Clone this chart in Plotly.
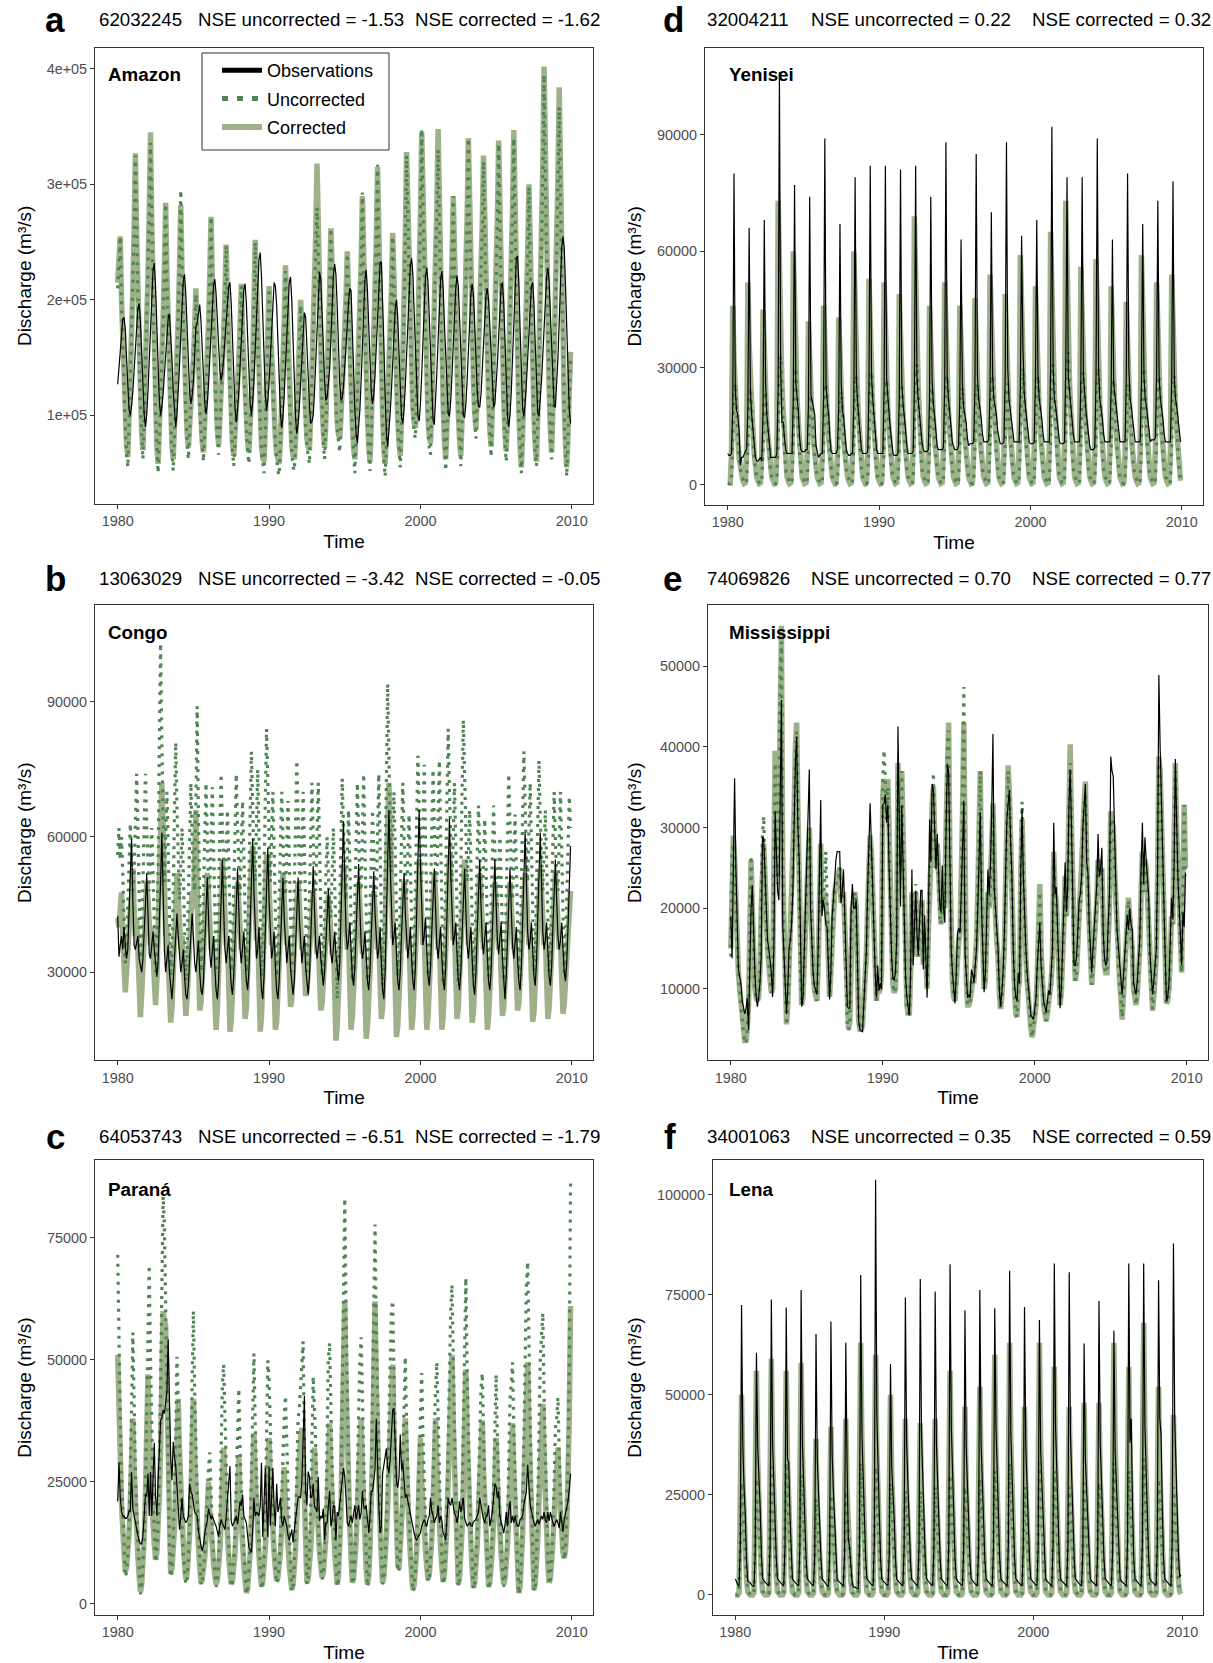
import plotly.graph_objects as go

# ---------------------------------------------------------------
# Monthly discharge 1980-2009, one row per year (Jan..Dec),
# values in thousand m3/s
# ---------------------------------------------------------------
years = list(range(1980, 2010))

amazon_obs = [
[127,140,155,172,183,185,175,150,123,105,100,108],
[121,139,158,178,193,197,181,154,124,101,90,101],
[121,147,175,204,226,232,212,179,142,113,100,107],
[119,135,153,170,184,188,173,149,121,100,90,101],
[119,143,169,196,217,222,205,177,146,121,110,117],
[129,150,176,180,190,196,182,158,131,111,101,110],
[127,148,171,195,213,218,205,183,158,139,130,137],
[149,164,181,198,212,215,197,167,133,106,94,104],
[120,142,166,190,209,214,197,168,136,111,100,111],
[131,156,185,213,235,241,220,186,148,118,104,113],
[128,148,171,193,215,212,196,165,129,102,89,99],
[118,141,168,194,215,220,200,166,128,98,84,92],
[107,126,147,170,189,185,165,135,108,93,95,100],
[120,150,180,210,224,218,195,160,130,113,115,125],
[140,165,195,222,231,222,195,160,128,113,115,125],
[140,158,178,198,210,208,180,140,105,84,76,88],
[105,130,160,192,218,226,208,178,145,120,110,118],
[135,158,185,212,232,233,205,162,118,85,73,85],
[102,122,145,170,192,200,185,155,122,98,93,105],
[125,150,180,208,230,236,222,190,155,122,100,95],
[110,135,165,195,220,228,215,185,150,118,96,92],
[110,137,165,195,218,225,210,180,148,118,102,99],
[112,135,160,188,210,221,212,185,150,118,100,98],
[110,130,155,182,205,214,205,180,150,122,108,107],
[118,138,160,185,204,210,200,178,150,122,107,110],
[125,145,168,192,212,215,198,165,128,100,90,100],
[120,148,180,212,236,238,215,175,135,106,99,110],
[128,148,170,194,212,215,196,162,125,102,99,112],
[130,152,175,200,220,228,216,188,155,125,108,107],
[125,150,180,215,245,255,245,212,170,132,105,93],
]
amazon_cor = [
[215,245,255,202,159,125,96,75,64,96,130,169],
[209,261,327,255,199,152,114,85,70,103,139,180],
[221,276,345,265,202,150,107,75,58,85,115,148],
[182,228,284,222,173,133,100,75,62,88,117,150],
[183,227,282,223,177,139,108,85,72,89,107,127],
[148,176,210,170,139,113,92,77,68,92,119,150],
[180,221,272,217,174,138,108,87,75,96,118,144],
[170,205,248,197,157,124,96,76,65,83,102,125],
[147,177,214,173,141,115,93,77,68,90,114,142],
[197,252,210,166,129,98,75,63,60,90,128,169],
[212,181,150,123,100,81,67,61,58,79,106,141],
[182,230,193,154,122,96,75,65,62,79,101,128],
[161,200,171,142,117,96,80,73,70,100,132,169],
[206,256,318,249,195,151,114,87,72,95,125,163],
[209,262,222,180,146,116,95,84,80,99,121,145],
[169,202,242,192,152,120,93,73,62,89,119,153],
[187,233,290,226,175,134,99,74,60,91,124,162],
[200,251,315,243,187,140,102,73,58,82,108,138],
[168,208,258,204,162,127,98,77,65,97,139,191],
[254,328,275,220,175,137,108,94,89,120,161,212],
[273,345,286,224,173,130,98,81,76,109,144,185],
[226,280,348,268,205,154,111,79,62,89,119,153],
[187,233,290,227,178,137,103,79,65,98,134,175],
[216,271,340,269,214,169,131,103,88,116,147,183],
[218,266,325,254,199,154,116,88,73,105,139,179],
[219,272,338,263,204,155,115,85,69,102,139,180],
[222,278,347,265,201,148,105,73,55,84,116,153],
[190,239,300,233,180,137,101,74,60,101,146,197],
[248,317,402,308,235,175,125,88,68,106,147,194],
[242,305,384,292,220,160,111,75,55,85,120,155],
]
amazon_unc = [
[210,240,255,198,155,120,90,68,55,90,127,165],
[205,258,325,250,195,148,110,80,62,98,136,176],
[215,270,336,258,196,145,102,68,50,80,110,143],
[178,225,283,218,168,128,95,68,52,82,112,146],
[185,232,295,228,178,136,102,78,62,84,104,124],
[145,172,205,166,134,108,86,70,60,88,116,148],
[178,220,272,214,170,133,102,80,66,90,114,140],
[168,203,247,195,153,119,90,70,56,78,98,122],
[145,175,212,170,137,110,87,70,58,86,111,140],
[195,250,206,162,124,92,68,55,50,85,125,167],
[210,178,146,118,95,75,60,52,48,74,103,138],
[180,225,188,149,117,90,68,56,52,74,98,125],
[158,195,166,137,111,90,73,64,58,95,128,165],
[200,245,280,240,190,145,108,78,62,90,122,160],
[207,262,218,176,140,110,88,75,68,95,118,143],
[166,200,240,188,148,115,87,64,50,84,116,150],
[186,235,293,224,170,128,92,65,52,86,121,160],
[200,252,317,240,182,134,95,64,47,76,104,135],
[165,205,255,200,157,121,90,68,55,92,136,189],
[252,325,272,216,170,131,100,85,80,116,158,210],
[272,348,283,220,168,124,90,72,66,104,141,183],
[222,275,330,262,200,148,104,70,52,84,116,150],
[185,230,290,224,173,131,96,70,56,93,131,172],
[214,270,340,266,210,164,124,94,80,111,144,180],
[215,262,320,250,194,148,109,79,64,100,136,176],
[216,269,335,260,199,149,108,76,60,97,136,177],
[220,275,340,261,196,142,98,64,50,80,113,150],
[188,236,298,230,175,131,94,66,56,97,143,195],
[245,312,395,303,229,168,117,80,62,102,144,190],
[240,300,367,288,215,154,104,66,47,80,116,150],
]

yenisei_obs = [
[8,7.5,7.5,8,20,80,25,19,18,14,5,7],
[7,8,8.5,9,20,66,24,18,14,10,7,6],
[6,6.5,7,6,18,68,26,18,14,10,7,7],
[7,7,7,8,25,106,30,16,16,12,9,8],
[8,8,8,8,22,77,26,22,19,12,9,8.5],
[8.5,8.5,9,9,20,74,23,21,20,18,10,8],
[7,7.5,8,8,22,89,25,21,18,12,8.5,8],
[8,8,8,9,20,67,26,19,17,13,9,8],
[7.5,7.5,8,8,22,79,27,21,17,13,9,8],
[8,8,8,8.5,25,82,28,22,18,14,9,8],
[8,8,8,8,25,82,27,21,18,14,10,8],
[7.5,7.5,7.5,8,22,81,26,21,18,14,10,8],
[8,8,8,8.5,25,82,28,22,18,15,11,9],
[8.5,8.5,8.5,9,22,74,27,21,18,14,10,9],
[9,9,9,9.5,25,88,28,22,19,15,11,10],
[9,9,9,10,22,63,26,20,18,16,12,10],
[10.5,10.5,10.5,11,25,85,28,22,20,17,13,11],
[11,11,11,11.5,25,70,28,22,20,18,14,12],
[10.5,10.5,10.5,11,28,88,30,22,19,17,14,11],
[11,11,11,11,25,64,36,24,20,17,13,11],
[10.5,10.5,10.5,11,28,68,28,22,20,17,13,11],
[11,11,11,11,30,92,30,22,20,17,14,11],
[10.5,10.5,10.5,11,30,79,28,24,20,17,13,11],
[11,11,11,11,28,79,28,22,19,16,12,10],
[9,9,9,9.5,28,89,30,22,20,17,13,11],
[11,11,11,11,25,63,26,22,20,17,13,11],
[11,11,11,11,28,80,30,22,20,17,13,11],
[11,11,11,11,26,67,28,22,20,17,13,11],
[11.5,11.5,11.5,12,28,73,28,22,20,17,13,11],
[11,11,11,11,28,78,28,22,20,17,13,11],
]
yenisei_cor = [
[0.5,0.3,0.5,8,46,32,23,17,12,7,4,2],
[1,0.3,0.5,9,52,36,26,19,14,8,4,2],
[1,0.3,0.5,8,45,32,23,16,12,7,4,2],
[1,0.3,0.5,10,73,51,36,26,19,12,5,2],
[1,0.3,0.5,9,60,42,30,22,16,10,4,2],
[1,0.3,0.5,8,42,29,21,15,11,7,4,2],
[1,0.3,0.5,8,46,32,23,17,12,7,4,2],
[1,0.3,0.5,8,43,30,22,15,11,7,4,2],
[1,0.3,0.5,9,60,42,30,22,16,10,4,2],
[1,0.3,0.5,9,53,37,27,19,14,8,4,2],
[1,0.3,0.5,9,52,36,26,19,14,8,4,2],
[1,0.3,0.5,8,49,34,25,18,13,8,4,2],
[1,0.3,0.5,10,69,48,35,25,18,11,5,2],
[1,0.3,0.5,8,46,32,23,17,12,7,4,2],
[1,0.3,0.5,9,52,36,26,19,14,8,4,2],
[1,0.3,0.5,8,46,32,23,17,12,7,4,2],
[1,0.3,0.5,8,48,34,24,17,12,8,4,2],
[1,0.3,0.5,9,54,40,30,22,15,9,4,2],
[1,0.3,0.5,8,49,34,25,18,13,8,4,2],
[1,0.3,0.5,9,59,41,30,21,15,9,4,2],
[1,0.3,0.5,9,51,36,26,18,13,8,4,2],
[1,0.3,0.5,10,65,46,33,23,17,10,5,2],
[1,0.3,0.5,10,73,51,36,26,19,12,5,2],
[1,0.3,0.5,9,56,39,28,20,15,9,4,2],
[1,0.3,0.5,9,58,41,29,21,15,9,4,2],
[1,0.3,0.5,9,51,36,26,18,13,8,4,2],
[1,0.3,0.5,8,47,33,24,17,12,8,4,2],
[1,0.3,0.5,9,59,41,30,21,15,9,4,2],
[1,0.3,0.5,9,52,36,26,19,14,8,4,2],
[1,0.3,0.5,9,54,38,27,19,14,9,4,1],
]
yenisei_unc = [
[0.3,0.2,0.2,1,10,23,26,20,12,7,4,2],
[1.5,0.5,0.2,1,10,22,25,19,12,7,4,2],
[1.5,0.5,0.2,1,9,22,24,18,11,7,4,2],
[1.5,0.5,0.2,1,12,30,33,25,14,8,4,2],
[1.5,0.5,0.2,1,11,27,30,22,13,8,4,2],
[1.5,0.5,0.2,1,9,21,23,17,11,7,4,2],
[1.5,0.5,0.2,1,10,23,26,20,12,7,4,2],
[1.5,0.5,0.2,1,9,22,24,18,11,7,4,2],
[1.5,0.5,0.2,1,11,25,28,21,13,8,4,2],
[1.5,0.5,0.2,1,11,26,29,22,13,8,4,2],
[1.5,0.5,0.2,1,10,24,27,20,12,7,4,2],
[1.5,0.5,0.2,1,10,23,26,20,12,7,4,2],
[1.5,0.5,0.2,1,12,28,31,23,13,8,4,2],
[1.5,0.5,0.2,1,10,22,25,19,12,7,4,2],
[1.5,0.5,0.2,1,11,25,28,21,13,8,4,2],
[1.5,0.5,0.2,1,10,22,25,19,12,7,4,2],
[1.5,0.5,0.2,1,10,23,26,20,12,7,4,2],
[1.5,0.5,0.2,1,11,25,28,21,13,8,4,2],
[1.5,0.5,0.2,1,10,23,26,20,12,7,4,2],
[1.5,0.5,0.2,1,11,27,30,22,13,8,4,2],
[1.5,0.5,0.2,1,11,25,28,21,13,8,4,2],
[1.5,0.5,0.2,1,12,28,31,23,13,8,4,2],
[1.5,0.5,0.2,1,13,31,34,26,14,8,4,2],
[1.5,0.5,0.2,1,11,26,29,22,13,8,4,2],
[1.5,0.5,0.2,1,11,27,30,22,13,8,4,2],
[1.5,0.5,0.2,1,10,24,27,20,12,7,4,2],
[1.5,0.5,0.2,1,10,23,26,20,12,7,4,2],
[1.5,0.5,0.2,1,11,27,30,22,13,8,4,2],
[1.5,0.5,0.2,1,11,25,28,21,13,8,4,2],
[1.5,0.5,0.2,1,11,25,28,21,13,8,4,1],
]

congo_obs = [
[42.4,33.4,36,38,35,40,36,33,35,42,50,59.6],
[46,36,35,37,38,33,31,30,33,38,45,52],
[42,34,33,36,39,35,31,29,32,40,50,61],
[48,35,30,33,36,30,26,24,28,34,38,43],
[38,33,30,32,35,29,25,24,27,33,38,43],
[38,32,30,33,37,30,26,25,28,36,44,51],
[42,34,31,34,38,31,26,24,28,37,46,55],
[44,35,32,35,38,32,27,25,29,37,45,53],
[44,35,32,35,39,33,28,26,30,40,50,59.6],
[48,38,33,35,40,32,26,24,29,39,48,57.6],
[46,37,33,35,39,31,26,24,28,36,44,51],
[42,35,32,35,38,31,27,25,28,36,44,51],
[42,35,32,35,38,31,27,25,29,37,45,53.5],
[44,36,33,35,38,33,29,27,30,36,42,48.5],
[40,34,32,35,39,34,30,28,32,42,53,63.5],
[50,39,35,37,41,35,29,27,31,39,47,54],
[44,36,33,35,39,33,28,26,30,38,45,52.4],
[43,36,33,35,40,32,26,24,30,42,54,66],
[54,42,36,38,41,34,28,26,30,38,45,52],
[43,36,33,36,40,33,28,26,31,43,55,66],
[54,42,36,38,42,35,29,27,31,39,46,53],
[44,36,33,36,40,33,28,26,31,42,53,64],
[52,41,36,38,41,34,28,26,30,38,46,53],
[44,36,33,36,40,33,27,25,30,39,47,55],
[45,37,34,37,41,34,28,26,30,39,47,55],
[45,37,34,37,41,33,27,24,29,38,46,53],
[44,36,33,36,40,33,28,26,31,41,51,61],
[50,39,35,37,41,34,29,27,32,42,52,61],
[50,39,35,37,41,34,29,27,31,40,48,55],
[46,38,35,37,41,35,30,28,32,40,49,58],
]
congo_cor = [
[42,40,44,47.7,38,28,25.5,30,36,40,44,47],
[53,44,38,42,32,22,20,25,33,40,46,50],
[46,38,36,40,32,24,22.7,28,38,52,64,72],
[62,46,38,40,34,24,18.8,22,30,40,47,52],
[47,38,35,38,30,22,20.3,24,31,38,44,48],
[44,52,66,48,32,21.5,23,27,34,42,48,52],
[47,38,35,38,29,20,17.2,22,31,42,50,55],
[50,40,36,38,28,16.8,19,24,32,40,46,50],
[45,37,35,37,28,19.6,22,28,38,48,56,58],
[52,42,37,39,30,16.8,20,28,38,48,56,55],
[48,40,36,38,28,17.2,19,25,34,42,48,52],
[46,38,36,38,30,22.3,24,28,35,42,47,50],
[45,38,35,37,30,24.7,26,30,35,41,45,48],
[44,37,34,37,30,21.5,23,28,34,40,44,47],
[43,36,34,37,26,14.8,18,25,34,44,51,54],
[48,39,35,37,27,17.2,20,26,34,42,47,50],
[45,37,34,36,26,15.2,18,24,32,40,45,48],
[44,37,35,37,28,19.6,22,28,38,52,64,72],
[62,46,38,38,27,15.6,18,25,33,42,47,50],
[45,37,35,37,27,17.2,20,27,36,45,51,55],
[49,40,36,38,28,17.2,20,27,35,44,49,52],
[47,38,35,37,28,17.2,20,27,36,46,52,56],
[50,41,37,39,29,19.6,22,28,37,46,52,55],
[49,40,36,38,29,18.8,21,27,35,44,49,52],
[47,38,35,37,28,17.2,20,26,34,42,47,50],
[45,37,35,37,29,20.3,22,28,35,42,47,50],
[45,37,35,37,29,21.5,23,29,36,44,49,52],
[47,38,36,38,29,19,21,28,36,45,50,53],
[48,39,36,38,29,19.6,22,28,36,44,49,52],
[47,38,35,37,29,20.8,23,29,36,42,46,48],
]
congo_unc = [
[56,62,55,60,52,40,32,36,44,54,63,55],
[48,52,64,74,62,45,33,38,48,62,74,62],
[52,48,56,62,52,38,30,36,52,80,103,80],
[62,50,60,70,58,40,29,34,46,66,81,66],
[52,46,54,62,52,38,28,33,44,60,72,60],
[50,48,72,89,64,42,30,35,46,60,72,60],
[50,48,60,71,58,41,30,35,47,62,74,62],
[52,47,56,66,55,40,30,35,46,62,74,62],
[52,47,58,68,56,41,30,35,47,65,79,65],
[55,50,63,75,60,42,29,34,47,68,84,70],
[58,50,60,70,57,41,29,34,45,59,70,59],
[50,47,58,68,56,41,30,35,46,63,77,64],
[53,48,60,70,57,41,30,35,46,60,72,60],
[50,48,61,72,58,41,29,33,42,52,60,52],
[44,42,52,62,50,36,24,30,42,60,73,62],
[52,46,56,66,54,39,28,33,45,60,72,60],
[50,48,62,74,58,40,28,33,43,56,66,56],
[47,47,62,74,58,40,27,33,48,72,94,76],
[62,52,60,70,57,41,29,34,46,60,72,60],
[50,46,56,65,54,40,29,34,46,64,78,65],
[54,50,64,76,60,42,29,34,46,62,75,62],
[52,50,64,77,61,42,28,34,48,68,84,70],
[58,50,60,72,58,41,28,34,48,70,86,71],
[60,50,56,66,54,40,29,33,44,56,67,57],
[48,46,55,64,53,39,29,33,44,56,67,57],
[48,44,52,60,50,37,28,33,44,60,74,62],
[52,46,56,65,54,40,29,34,46,64,79,66],
[55,50,60,72,58,42,30,35,47,63,77,64],
[54,48,56,66,55,40,30,35,45,58,70,59],
[50,48,58,70,57,41,30,35,45,57,69,62],
]

mississippi_obs = [
[19,13.8,25,36.1,25,18,12.5,11.5,10.7,8.5,7.6,6.9],
[7.5,8.9,4.9,13,20,22.8,17,12,9,7.8,9,10.7],
[14,28.8,28.6,24,18,16,15,13.5,12,9,15,32],
[26,22,21,35,45.8,18,14,10.7,6.9,10,15,16],
[18,22,30,38,41.2,30,26,15,7.8,8.9,15,19.5],
[25.7,30,37.2,20,15,12,10.4,9.8,9.3,15,25,33.4],
[19,21,20,18,17.7,13,8.7,12,19,21,24.4,26],
[27,27,27,20.6,22,24.8,19,12,7.8,7.6,7.6,20],
[23,20,20,21,12,6,4.9,4.8,4.7,8,12,14.6],
[22,28,33,28,22,19.5,12,8.9,12.9,9.8,10.7,10],
[32.8,33,34.1,30.6,32.8,25,17.7,14,11.3,11.1,12,16.2],
[42.5,30,20.2,32.8,24.8,18,11.5,9,7.5,6.7,12,24.8],
[12.9,18,22.2,16.9,14.2,18,22.2,22.2,12.4,19.1,15,8.9],
[17.7,31,25.7,35.4,34.6,28,24.8,29.2,25,20.4,19.5,25.3],
[20,18.2,30,37.9,36.8,24,15,12,9.8,8.2,12,16.9],
[17.5,16.9,22,28.8,33.3,14.4,11,8.9,9.3,8.9,12.4,11.8],
[10.7,13,15,20,24.8,31.9,20,15,9.6,12,17.3,24.8],
[21.7,25,32,41.6,22.6,19.5,17,15,10,7.8,9.5,12],
[16.9,25.7,31,33,34.6,28,23.9,15,10.7,9,8.5,12],
[10.7,25,32.3,23.9,17.7,15,12,10,8.5,6.7,6.5,6.2],
[7.5,8.9,13,16,18.2,12.9,10,8.5,7.8,7.1,8.5,9.8],
[9.3,12,15,30.6,21.7,22.6,18,14.6,7.6,10,15,20],
[25.7,19.5,22.4,32.8,37.2,30,22.6,12.9,12.9,14,17,21],
[21.7,24,30.1,33,35.4,25.7,24.4,18,15.5,12,15,17.7],
[20,23,29.2,23.9,25,27.5,17.3,14,12.9,13.3,18,21.7],
[38.8,37,36.3,28,23,17.3,15,12.9,11,9.3,11.5,13.8],
[16,19.1,17.3,20,18,17.3,10.7,10,9.3,11,13.3,16.4],
[25,30.6,23,28.8,26,23.9,21.3,14.2,12,9.3,11,13.3],
[15,25,48.9,40,32.8,25,19.5,14,8.5,9,10.7,15],
[21.3,18.6,25,38.5,28.4,24,20.4,16,12.9,19.5,17.7,24.4],
]
mississippi_cor = [
[15,28,29,26,20,15,12,10,8,6,4.5,3.6],
[3.6,5,8,16,26,20,14,10,9,8.5,9,12],
[20,27,28,24,17,15,13,11,9.5,10,20,39.5],
[30,24,32,50,55,25,15,9,5.6,8,13,16],
[19,24,32,40,43,32,20,12,8,9,14,19],
[24,28,30,22,15,12,10,9,8.5,13,22,28],
[20,20,22,21,19,14,9,12,17,20,22,23],
[24,24,25,21,21,22,17,11,6,5,6,17],
[20,21,22,20,12,6,5,5,5.5,8,11,14],
[20,26,29,27,22,17,11,8.5,11,9.5,10,12],
[34,36,35,32,36,28,18,13,10.5,9.5,10,15],
[38,32,25,37,28,19,11,8,7,7,12,22],
[14,18,22,18,14,17,20,21,13,17,14,10],
[17,26,26,33,35,29,25,28,24,19,18,22],
[20,20,30,40,43,26,15,11,9,8.5,11,15],
[16,17,22,32,43,20,11,8,8,8.5,11,11],
[11,13,16,22,30,37,22,15,10,11,15,22],
[20,23,28,33,23,19,16,14,9.5,7.5,9,11],
[15,23,35,37.7,34,27,22,15,10,7,6.5,10],
[11,24,31,24,17,14,11,8.5,6.5,5,4,5],
[6.5,8,12,16,23,15,10,8,7,6,7,8.5],
[9,11,14,27,22,21,17,13,8,9.5,13,18],
[24,19,24,33,40.3,30,22,13,11,12,15,19],
[20,23,29,33,35.7,26,23,17,14,10.5,13,16],
[18,21,26,24,24,25,17,13,12,12,16,20],
[32,31,30,25,21,16,13,11,9,6.2,9,12],
[15,18,21.3,19,17,15,10,9,8,9.5,12,15],
[22,27,22,26,25,22,19,13,10,7.3,9,12],
[14,24,38.8,37,31,24,18,13,8.2,8.5,10,14],
[19,18,26,38,30,24,19,15,12,24,32.8,25],
]
mississippi_unc = [
[14,27,28,26,20,15,12,10,8,6,4.5,3.3],
[3.3,5,8,17,26.5,20,14,10,9,8.5,9,12],
[21,29,31.4,24,17,15,13,11,9.5,10,21,38],
[30,23,31,49,53,25,15,9,5.5,8,13,16],
[19,24,31,39,42,32,20,12,8,9,14,19],
[23,27,29,22,15,12,10,9,8.5,13,22,27],
[20,21,23,27,21,14,9,12,17,20,22,23],
[24,24,25,21,21,22,17,11,5.5,4.9,6,17],
[20,21,22,20,12,6,5,5,5.5,8,11,14],
[20,26,28,27,22,17,11,8.5,11,9.5,10,13],
[36,39.6,36,31,35,28,18,13,10.5,9.5,10,15],
[36,32,25,37,28,19,11,8,7,7,12,22],
[15,19,23,18,14,17,20,21,13,17,14,10],
[17,25,26,33,36.8,29,25,28,24,19,18,22],
[20,20,30,40,42,26,15,11,9,8.5,11,15],
[16,17,22,35,47.4,22,11,8,8,8.5,11,11],
[11,13,16,22,30,37,22,15,10,11,15,22],
[20,23,28,32,23,19,16,14,9.5,7.5,9,11],
[15,23,34,37,34,27,22,15,10,7,6.5,10],
[11,26,33.2,24,17,14,11,8.5,6.5,5,4,5],
[6.5,8,12,16,22,15,10,8,7,6,7,8.5],
[9,11,14,26,22,21,17,13,8,9.5,13,18],
[24,19,24,33,38,30,22,13,11,12,15,19],
[20,23,29,33,34,26,23,17,14,10.5,13,16],
[18,21,26,24,24,25,17,13,12,12,16,20],
[31,31,30,25,21,16,13,11,9,6.5,9,12],
[15,18,21,19,17,15,10,9,8,9.5,12,15],
[22,27,22,26,25,22,19,13,10,7.5,9,12],
[14,24,38,37,31,24,18,13,8.2,8.5,10,14],
[19,18,26,37,30,24,19,15,12,26,32.8,24],
]

parana_obs = [
[21,29,22,19,18,18,17.5,17.5,18,19,19,27],
[19.5,18,17,15.2,14,13,12.3,12.3,14,18,22.4,22],
[26.7,18,27,18,25,33,22,18,25,32.5,37.6,38],
[39.7,39,42,43.4,54.2,38.3,30,25.3,33.2,30,28.2,24],
[19.5,15.2,18,21.7,18,17,16.6,17,18,24.6,23,22.4],
[20,18.8,18.5,18,15,13,12,10.8,12,14.5,16,17],
[19.5,18.5,17.3,18,17,16.5,15.9,15,13.7,16,17.3,16.5],
[16,15.2,18,21,23.8,28.2,17,15.9,16.5,17.5,18,16.3],
[19,21,20,22.4,18,17,16.6,14,11.6,11,10.5,15],
[21.7,18,18.8,18.5,18,20,28.9,13.7,20,27.8,20,13.7],
[28.2,16,22,27.8,20,15.9,24.6,18.8,20,21.7,17,15.9],
[18,17,15.9,14,13,14,15.2,12.6,15.9,17.3,19.5,21.7],
[22,21.7,25,36.1,42.6,23.1,20.2,27.1,26,21.7,22,24.6],
[20,19.5,18.8,26,17,18,17.5,19.5,13,16.6,16.6,20],
[23.1,15.9,17.3,20.2,20,13,18.8,18,20.2,22,25.3,27.8],
[26,21.7,16.6,15.9,17,18,16.6,19,20.2,17.3,19,20.2],
[17.3,18.8,23.1,20,19.5,20.2,17.3,14.5,18,23.1,23.1,25],
[27.5,37.9,27.5,20,14.5,15.9,26.7,28.2,30,31.8,28,26.7],
[29.6,35,39.7,40.1,31.8,25,23.8,26,34.7,27.5,28.9,25],
[21.7,22.4,21,19.5,18,17.3,16,14.5,13.5,13,13.7,14],
[14.5,15.9,16.5,17.3,16.5,15.9,17.3,18,21.7,19,18,16.6],
[17.5,18,20.2,16.6,18,17,14.5,14,13,18.8,21.7,20.5],
[20.2,21.7,19.5,18.5,18,16.6,18,21,18.8,20,21.7,17.5],
[16.6,15.9,16.3,16.6,16,15.9,16.8,17,17.3,18,18.8,21.7],
[20,18,17.3,16.6,18,18,20.2,15.9,17.5,18.8,21.7,24.6],
[24,21.7,23.1,18,16.5,15.9,14.5,16,18.8,15.9,19,21],
[16.6,18,16.6,18,16.6,16,15.9,17.3,17.5,18,20.2,21.5],
[23.1,28.5,23.1,20.2,19,17.3,16.6,15.9,16.5,17.3,16.3,17.5],
[18,17.3,18.8,17,16.6,18.8,17,18.8,17.5,16.6,15.9,16.5],
[17.3,16.6,15.5,18.8,16,14.8,17.3,18.8,19.5,21,23.5,26.7],
]
parana_cor = [
[51,37.7,27.9,20.7,15.4,10.5,6.5,7.4,10.3,14.4,20.7,29.2],
[38,27.4,19.5,13.9,9.6,5.7,2.5,3.8,7.8,13.6,22.5,34.5],
[47,35.6,27.2,21.2,16.6,12.4,9,10.5,15.1,21.8,32,45.7],
[60,58,57,45,30,15,6.1,7.2,10.4,15.1,22.3,32],
[42,30.9,22.8,16.8,12.4,8.3,5,6.1,9.4,14.3,21.7,31.6],
[42,30.7,22.4,16.4,11.8,7.7,4.3,4.9,6.8,9.5,13.6,19.2],
[25,18.7,14.1,10.7,8.2,5.9,4,4.8,7.4,11,16.6,24.2],
[32,23.6,17.4,13,9.6,6.5,4,4.8,7.1,10.5,15.7,22.7],
[30,21.7,15.5,11.1,7.8,4.7,2.2,3.2,6.1,10.4,17,25.8],
[35,25.6,18.7,13.6,9.9,6.4,3.6,4.5,7.2,11.2,17.3,25.5],
[34,25.2,18.8,14.1,10.6,7.3,4.7,5.4,7.5,10.5,15.2,21.5],
[28,20.5,15,10.9,7.9,5.2,2.9,3.9,6.9,11.2,17.8,26.7],
[30,34,36,31,22,11,4.3,5.1,7.6,11.2,16.8,24.2],
[32,24,18.2,13.9,10.7,7.8,5.4,6.3,9.2,13.3,19.6,28.2],
[37,27.1,19.8,14.6,10.6,7,4,5.7,11,18.5,35,58],
[62,44.7,32,22.8,15.8,9.5,4.3,5.3,8.3,12.7,19.5,28.6],
[34,38,27,18,12,7,4,5.7,11,18.5,30.1,45.8],
[62,44.7,32,22.8,15.8,9.5,4.3,5.5,9,14,20,28],
[36,44,49,36,24,14,8,7.2,10.9,14.9,21.1,29.4],
[38,27.5,19.7,14.1,9.9,6.1,2.9,3.8,6.6,10.7,16.9,25.3],
[34,25.3,18.9,14.3,10.8,7.6,5,6,9,13.3,19.9,28.8],
[38,28,20.6,15.2,11.2,7.5,4.5,5.9,10.1,16.1,25.4,36],
[44,51,37,26,17,9,4,5.3,9.3,15,23.8,35.7],
[48,34.6,24.8,17.6,12.2,7.3,3.3,4.3,7.5,12,19,27],
[33,37.6,27,19,12,7,3.5,4.5,7.3,11,17,25],
[34,25,18.4,13.6,10,6.7,4,5,8,12,18,26],
[32,37,27,19,12,6,2.2,3.5,8,14,24,37],
[45,49.5,36,25,16,8,2.9,4,8,13,21,31],
[38,41,30,21,14,8,4.3,5.2,8.5,13,19,26],
[29,32,24,18,13,10.5,9.4,11,16,24,38,61],
]
parana_unc = [
[71.5,52,38,27,18,11,5.5,6.5,10,16,26,40],
[55.6,40,28,19,12,6,2,3,7,13,24,42],
[58,69.4,50,35,24,15,8.5,10,16,26,42,62],
[83.5,77.7,62,40,24,12,5.5,7,12,22,35,50.6],
[42,30,21,15,10,6,4,5,9,16,30,52],
[60,44,31,22,15,9,3.8,4.5,7,10,16,24],
[28,31,22,15,10,6,3.5,4.5,9,17,30,45],
[49.1,36,26,18,12,7,3.5,4.5,8,15,26,40],
[44.1,32,23,16,11,6,2,3,7,14,28,45],
[51.3,37,26,18,12,6,3,4,9,18,32,49.9],
[46,34,24,17,11,7,4.2,5,8,13,22,34],
[38,42.6,31,22,15,8,2.5,3.5,8,16,26,38],
[40,45,50,53.8,32,14,4,5,10,20,33,46.6],
[40,30,22,16,11,7,5,6,10,18,32,50],
[53.5,39,28,20,14,8,3.5,5,11,22,42,70],
[83.1,60,42,29,19,10,4,5,9,16,28,44],
[50,54.6,40,28,19,10,3.5,5,12,24,44,70],
[77.7,56,40,27,18,10,4,5,9,16,28,42],
[52,60,62.1,45,30,16,7,6.5,11,18,30,44],
[50.6,37,26,18,12,6,2.5,3.5,7,13,22,34],
[42,47.3,34,24,16,9,4.5,5.5,9,15,25,38],
[44,49.5,36,25,17,9,4,5.5,11,20,34,52],
[60,65.4,48,33,22,11,3.5,5,11,21,38,58],
[66.8,48,34,23,15,8,3,4,8,14,24,38],
[44,47.3,34,24,16,8,3,4,8,14,24,38],
[47,34,24,17,11,6,3.5,5,9,16,28,42],
[45,49.5,36,25,16,8,2,3.5,9,18,34,55],
[65,70.1,51,35,23,12,2.5,4,10,20,34,50],
[55,59.6,43,30,20,10,4,5,9,15,25,36],
[38,42.3,31,22,16,11,9,11,18,30,50,86.3],
]

lena_obs = [
[4,3,2.5,2.2,12,72.4,38,27,20,8.4,3.5,3.2],
[3,2.5,2.2,2,10,60.5,37,30,22,10,4,3.5],
[3.2,2.8,2.5,2.2,12,73.8,38,26,20,9,4,3.5],
[3.2,2.8,2.5,2.2,12,71.8,34,33,20,9,4,3.5],
[3.2,2.8,2.5,2.2,12,76.2,38,27,20,9,4,3.5],
[3.2,2.8,2.5,2.2,10,65.2,34,25,19,9,4,3.5],
[3,2.6,2.3,2,10,68.3,35,26,19,9,4,3.5],
[3.2,2.8,2.5,2.2,10,63,33,14,12,8,3.5,2],
[2,1.8,1.6,1.5,12,79.9,40,28,20,9,4,3.5],
[3.2,2.8,2.5,2.2,14,103.7,45,28,20,9,4,3.5],
[3.2,2.8,2.5,2.2,10,57.7,32,26,19,9,4,3.5],
[3.2,2.8,2.5,2.2,12,74.3,38,27,20,9,4,3.5],
[3.2,2.8,2.5,2.2,12,78.9,40,28,20,9,4,3.5],
[3.2,2.8,2.5,2.2,12,75.8,38,27,20,9,4,3.5],
[3.2,2.8,2.5,2.2,13,82.6,42,28,20,9,4,3.5],
[3.2,2.8,2.5,2.2,12,71.1,37,27,20,9,4,3.5],
[3.2,2.8,2.5,2.2,12,76.2,38,27,20,9,4,3.5],
[3.2,2.8,2.5,2.2,12,71.6,42,28,20,9,4,3.5],
[3.2,2.8,2.5,2.2,13,81,40,28,20,9,4,3.5],
[3.2,2.8,2.5,2.2,12,71.9,37,27,20,9,4,3.5],
[3.2,2.8,2.5,2.2,12,68.7,36,27,20,9,4,3.5],
[3.2,2.8,2.5,2.2,13,82.8,42,28,20,9,4,3.5],
[3.2,2.8,2.5,2.2,13,80.6,40,28,20,9,4,3.5],
[3.2,2.8,2.5,2.2,11,62.8,34,26,19,9,4,3.5],
[3.2,2.8,2.5,2.2,12,73.4,38,27,20,9,4,3.5],
[3.2,2.8,2.5,2.2,11,66,36,27,20,9,4,3.5],
[3.2,2.8,2.5,2.2,13,82.8,38,44,22,9,4,3.5],
[3.2,2.8,2.5,2.2,13,82.8,42,28,20,9,4,3.5],
[3.2,2.8,2.5,2.2,13,78.6,44,40,22,9,4,3.5],
[3.2,2.8,2.5,2.2,14,87.8,44,30,21,10,4.5,5],
]
lena_cor = [
[0,0,0,0.5,27,50,30,19,11,4,0.8,0.2],
[0,0,0,0.5,31,56,34,21,12,4.5,0.8,0.2],
[0,0,0,0.5,32,59,35,22,13,4.7,0.8,0.2],
[0,0,0,0.5,31,56,34,21,12,4.5,0.8,0.2],
[0,0,0,0.5,32,58,35,22,13,4.6,0.8,0.2],
[0,0,0,0.5,21,39,23,15,8.6,3.1,0.8,0.2],
[0,0,0,0.5,23,42,25,16,9.2,3.4,0.8,0.2],
[0,0,0,0.5,24,44,26,17,9.7,3.5,0.8,0.2],
[0,0,0,0.5,35,63,38,24,14,5,0.8,0.2],
[0,0,0,0.5,33,60,36,23,13,4.8,0.8,0.2],
[0,0,0,0.5,27,50,30,19,11,4,0.8,0.2],
[0,0,0,0.5,24,44,26,17,9.7,3.5,0.8,0.2],
[0,0,0,0.5,24,43,26,16,9.5,3.4,0.8,0.2],
[0,0,0,0.5,24,44,26,17,9.7,3.5,0.8,0.2],
[0,0,0,0.5,31,56,34,21,12,4.5,0.8,0.2],
[0,0,0,0.5,26,47,28,18,10,3.8,0.8,0.2],
[0,0,0,0.5,29,52,31,20,11,4.2,0.8,0.2],
[0,0,0,0.5,33,60,36,23,13,4.8,0.8,0.2],
[0,0,0,0.5,35,63,38,24,14,5,0.8,0.2],
[0,0,0,0.5,26,47,28,18,10,3.8,0.8,0.2],
[0,0,0,0.5,35,63,38,24,14,5,0.8,0.2],
[0,0,0,0.5,31,57,34,22,13,4.6,0.8,0.2],
[0,0,0,0.5,26,47,28,18,10,3.8,0.8,0.2],
[0,0,0,0.5,26,48,29,18,11,3.8,0.8,0.2],
[0,0,0,0.5,26,48,29,18,11,3.8,0.8,0.2],
[0,0,0,0.5,35,63,38,24,14,5,0.8,0.2],
[0,0,0,0.5,31,57,34,22,13,4.6,0.8,0.2],
[0,0,0,0.5,37,68,41,26,15,5.4,0.8,0.2],
[0,0,0,0.5,29,52,31,20,11,4.2,0.8,0.2],
[0,0,0,0.5,25,45,27,17,9.9,3.6,0.8,0.2],
]
lena_unc = [
[0,0,0,0.3,11,28,22,15,10,4.2,1,0.3],
[0,0,0,0.3,12,29,23,16,10,4.4,1,0.3],
[0,0,0,0.3,13,32,26,18,11,4.8,1,0.3],
[0,0,0,0.3,13,33,26,18,12,5,1,0.3],
[0,0,0,0.3,12,30,24,17,11,4.5,1,0.3],
[0,0,0,0.3,10,24,19,13,8.4,3.6,1,0.3],
[0,0,0,0.3,10,25,20,14,8.8,3.8,1,0.3],
[0,0,0,0.3,10,26,21,14,9.1,3.9,1,0.3],
[0,0,0,0.3,13,33,26,18,12,5,1,0.3],
[0,0,0,0.3,13,32,26,18,11,4.8,1,0.3],
[0,0,0,0.3,11,28,22,15,10,4.2,1,0.3],
[0,0,0,0.3,10,26,21,14,9.1,3.9,1,0.3],
[0,0,0,0.3,10,26,21,14,9.1,3.9,1,0.3],
[0,0,0,0.3,11,27,22,15,9.5,4,1,0.3],
[0,0,0,0.3,12,30,24,17,11,4.5,1,0.3],
[0,0,0,0.3,11,27,22,15,9.5,4,1,0.3],
[0,0,0,0.3,12,29,23,16,10,4.4,1,0.3],
[0,0,0,0.3,12,31,25,17,11,4.6,1,0.3],
[0,0,0,0.3,13,33,26,18,12,5,1,0.3],
[0,0,0,0.3,11,27,22,15,9.5,4,1,0.3],
[0,0,0,0.3,13,33,26,18,12,5,1,0.3],
[0,0,0,0.3,12,31,25,17,11,4.6,1,0.3],
[0,0,0,0.3,11,27,22,15,9.5,4,1,0.3],
[0,0,0,0.3,11,28,22,15,10,4.2,1,0.3],
[0,0,0,0.3,11,28,22,15,10,4.2,1,0.3],
[0,0,0,0.3,13,33,26,18,12,5,1,0.3],
[0,0,0,0.3,12,31,25,17,11,4.6,1,0.3],
[0,0,0,0.3,14,34,27,19,12,5.1,1,0.3],
[0,0,0,0.3,12,29,23,16,10,4.4,1,0.3],
[0,0,0,0.3,11,27,22,15,9.5,4,1,0.3],
]

# ---------------------------------------------------------------
W, H = 1213, 1663
FONT = "Liberation Sans, Arial, Helvetica, sans-serif"
COL_OBS = "#000000"
COL_UNC = "#4f8552"
COL_COR = "#9eb18a"
AXC = "#333333"
TICKC = "#4d4d4d"


def series(rows):
    t, v = [], []
    for y, row in zip(years, rows):
        for m, val in enumerate(row):
            t.append(y + m / 12.0)
            v.append(val * 1000.0)
    return t, v


def fx(px):
    return px / W


def fy(py):
    return 1 - py / H


# title pieces: x positions (px) of gauge id, "NSE uncorrected", "NSE corrected"
LEFT_T = (97, 196, 412.5)
RIGHT_T = (705, 809, 1030)

panels = [
    dict(letter="a", river="Amazon", gauge="62032245", nu="-1.53", nc="-1.62", tpos=LEFT_T,
         obs=amazon_obs, unc=amazon_unc, cor=amazon_cor,
         box=(95, 593, 48.2, 503.6), yr=(23650, 417900),
         yt=[100000, 200000, 300000, 400000], ytt=["1e+05", "2e+05", "3e+05", "4e+05"],
         ty=19, lx=55, ys=10, rx=106, ry=74),
    dict(letter="d", river="Yenisei", gauge="32004211", nu="0.22", nc="0.32", tpos=RIGHT_T,
         obs=yenisei_obs, unc=yenisei_unc, cor=yenisei_cor,
         box=(705, 1203, 48.2, 504.6), yr=(-5140, 112200),
         yt=[0, 30000, 60000, 90000], ytt=["0", "30000", "60000", "90000"],
         ty=19, lx=673, ys=10, rx=727, ry=75),
    dict(letter="b", river="Congo", gauge="13063029", nu="-3.42", nc="-0.05", tpos=LEFT_T,
         obs=congo_obs, unc=congo_unc, cor=congo_cor,
         box=(95, 593, 605, 1060.4), yr=(10400, 111490),
         yt=[30000, 60000, 90000], ytt=["30000", "60000", "90000"],
         ty=579, lx=55, ys=10, rx=106, ry=632),
    dict(letter="e", river="Mississippi", gauge="74069826", nu="0.70", nc="0.77", tpos=RIGHT_T,
         obs=mississippi_obs, unc=mississippi_unc, cor=mississippi_cor,
         box=(708, 1208, 605, 1060.4), yr=(1140, 57570),
         yt=[10000, 20000, 30000, 40000, 50000],
         ytt=["10000", "20000", "30000", "40000", "50000"],
         ty=579, lx=672, ys=13, rx=727, ry=632),
    dict(letter="c", river="Paraná", gauge="64053743", nu="-6.51", nc="-1.79", tpos=LEFT_T,
         obs=parana_obs, unc=parana_unc, cor=parana_cor,
         box=(95, 593, 1160.1, 1615), yr=(-2290, 90900),
         yt=[0, 25000, 50000, 75000], ytt=["0", "25000", "50000", "75000"],
         ty=1136.5, lx=55, ys=10, rx=106, ry=1189.5),
    dict(letter="f", river="Lena", gauge="34001063", nu="0.35", nc="0.59", tpos=RIGHT_T,
         obs=lena_obs, unc=lena_unc, cor=lena_cor,
         box=(713, 1203, 1160.1, 1615), yr=(-5020, 108620),
         yt=[0, 25000, 50000, 75000, 100000],
         ytt=["0", "25000", "50000", "75000", "100000"],
         ty=1136.5, lx=670, ys=10, rx=727, ry=1189.5),
]

fig = go.Figure()
annotations = []

for i, p in enumerate(panels):
    n = "" if i == 0 else str(i + 1)
    xa, ya = "x" + n, "y" + n
    for key, col, wid, dash in (("cor", COL_COR, 5.5, "solid"),
                                ("unc", COL_UNC, 3.2, "3px,6px"),
                                ("obs", COL_OBS, 1.2, "solid")):
        t, v = series(p[key])
        fig.add_trace(go.Scatter(x=t, y=v, mode="lines", xaxis=xa, yaxis=ya,
                                 line=dict(color=col, width=wid, dash=dash),
                                 showlegend=False, hoverinfo="skip"))
    x0, x1, y0, y1 = p["box"]
    axx = dict(domain=[fx(x0), fx(x1)], range=[1978.5, 2011.4], anchor=ya,
               tickvals=[1980, 1990, 2000, 2010], ticktext=["1980", "1990", "2000", "2010"],
               showline=True, mirror=True, linecolor=AXC, linewidth=1,
               ticks="outside", ticklen=4, tickwidth=1, tickcolor=AXC,
               tickfont=dict(family=FONT, size=14.4, color=TICKC),
               showgrid=False, zeroline=False, automargin=False,
               title=dict(text="Time", standoff=6,
                          font=dict(family=FONT, size=19, color="#000000")))
    axy = dict(domain=[fy(y1), fy(y0)], range=list(p["yr"]), anchor=xa,
               tickvals=p["yt"], ticktext=p["ytt"],
               showline=True, mirror=True, linecolor=AXC, linewidth=1,
               ticks="outside", ticklen=4, tickwidth=1, tickcolor=AXC,
               tickfont=dict(family=FONT, size=14.4, color=TICKC),
               showgrid=False, zeroline=False, automargin=False,
               title=dict(text="Discharge (m³/s)", standoff=p["ys"],
                          font=dict(family=FONT, size=19, color="#000000")))
    fig.update_layout(**{"xaxis" + n: axx, "yaxis" + n: axy})

    pieces = (p["gauge"], "NSE uncorrected = " + p["nu"], "NSE corrected = " + p["nc"])
    for xpos, txt in zip(p["tpos"], pieces):
        annotations.append(dict(text=txt, x=fx(xpos), y=fy(p["ty"]), xref="paper", yref="paper",
                                xanchor="left", yanchor="middle", showarrow=False,
                                font=dict(family=FONT, size=18.7, color="#000000")))
    annotations.append(dict(text="<b>" + p["letter"] + "</b>", x=fx(p["lx"]), y=fy(p["ty"]),
                            xref="paper", yref="paper", xanchor="center", yanchor="middle",
                            showarrow=False, font=dict(family=FONT, size=35, color="#000000")))
    annotations.append(dict(text="<b>" + p["river"] + "</b>", x=fx(p["rx"]), y=fy(p["ry"]),
                            xref="paper", yref="paper", xanchor="left", yanchor="middle",
                            showarrow=False, font=dict(family=FONT, size=18.8, color="#000000")))

# legend-only entries (panel a)
fig.add_trace(go.Scatter(x=[None], y=[None], mode="lines", name="Observations",
                         line=dict(color=COL_OBS, width=5), legendrank=1, legendgroup="o",
                         xaxis="x", yaxis="y"))
fig.add_trace(go.Scatter(x=[None], y=[None], mode="lines", name="Uncorrected",
                         line=dict(color=COL_UNC, width=5, dash="6px,9px"), legendrank=2,
                         legendgroup="u", xaxis="x", yaxis="y"))
fig.add_trace(go.Scatter(x=[None], y=[None], mode="lines", name="Corrected",
                         line=dict(color=COL_COR, width=6), legendrank=3, legendgroup="c",
                         xaxis="x", yaxis="y"))

legend_box = dict(type="rect", xref="paper", yref="paper",
                  x0=fx(202), x1=fx(389), y0=fy(150), y1=fy(53),
                  line=dict(color="#333333", width=1), fillcolor="white", layer="above")

fig.update_layout(
    width=W, height=H,
    margin=dict(l=0, r=0, t=0, b=0, pad=0),
    paper_bgcolor="white", plot_bgcolor="white",
    font=dict(family=FONT, color="#000000"),
    annotations=annotations,
    shapes=[legend_box],
    showlegend=True,
    legend=dict(x=fx(217), y=fy(52), xanchor="left", yanchor="top",
                bgcolor="rgba(0,0,0,0)", borderwidth=0,
                font=dict(family=FONT, size=18, color="#000000"),
                tracegroupgap=2, itemwidth=40),
)

fig.write_html("out.html")
